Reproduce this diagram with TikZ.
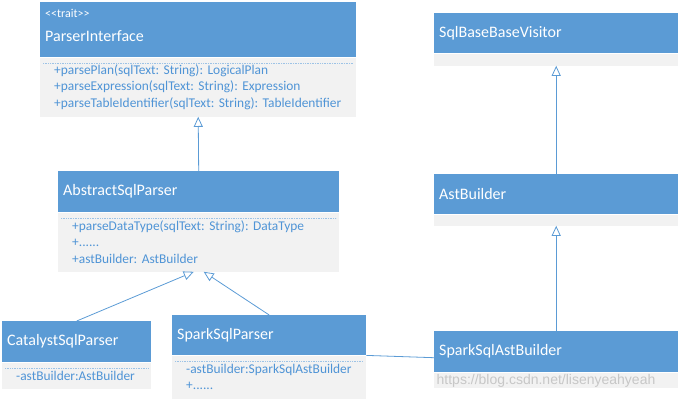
\documentclass[tikz,border=0pt]{standalone}
\usepackage{fontspec}
\setmainfont{Carlito}
\newfontfamily\wmfont{Liberation Sans}
\frenchspacing
\usetikzlibrary{arrows.meta}
\definecolor{headblue}{HTML}{5B9BD5}
\definecolor{bodygray}{HTML}{F2F2F2}
\definecolor{textblue}{HTML}{4F94D6}
\definecolor{dotblue}{HTML}{9DC3E6}
\tikzstyle{classhead}=[fill=headblue, text=white, anchor=north west, align=left,
  inner xsep=5pt, inner ysep=0pt, font=\fontsize{16}{18}\selectfont]
\tikzstyle{classbody}=[fill=bodygray, text=textblue, anchor=north west, align=left,
  inner xsep=14pt, inner ysep=0pt, font=\fontsize{13.4}{16.5}\selectfont]
\tikzstyle{sepline}=[draw=dotblue, densely dotted, line width=0.7pt]
\tikzstyle{line}=[draw, color=headblue, line width=0.8pt,
  -{Triangle[open, fill=white, length=10pt, width=9pt]}]
\tikzstyle{assoc}=[draw, color=headblue, line width=0.8pt]
\newcommand{\classhead}[4]{node (#1) [classhead, text width=#2,
  minimum height=#3] {#4}}
\newcommand{\classbody}[4]{node (#1) [classbody, text width=#2,
  minimum height=#3] {#4}}
\newcommand{\sepbody}[1]{%
  \path [sepline] ([xshift=3pt,yshift=-6pt]#1.north west) --
    ([xshift=-3pt,yshift=-6pt]#1.north east);}

\begin{document}
\begin{tikzpicture}[x=1pt,y=1pt]
  \useasboundingbox (0,0) rectangle (680,400);

  % parser classes
  \path (40,398) \classhead{PI}{306pt}{55pt}{{\fontsize{12}{13}\selectfont <{}<trait>{}>}\\[6pt]ParserInterface\vspace{8pt}};
  \path (PI.south west) \classbody{PIb}{288pt}{59pt}{+parsePlan(sqlText: String): LogicalPlan\\
    +parseExpression(sqlText: String): Expression\\
    +parseTableIdentifier(sqlText: String): TableIdentifier};

  \path (58,229) \classhead{ASP}{271pt}{41pt}{AbstractSqlParser};
  \path (ASP.south west) \classbody{ASPb}{253pt}{59pt}{+parseDataType(sqlText: String): DataType\\
    +......\\
    +astBuilder: AstBuilder};

  \path (2,79) \classhead{CSP}{139pt}{41pt}{CatalystSqlParser};
  \path (CSP.south west) \classbody{CSPb}{121pt}{26pt}{-astBuilder:AstBuilder};

  \path (172,85) \classhead{SSP}{184pt}{40pt}{SparkSqlParser};
  \path (SSP.south west) \classbody{SSPb}{166pt}{43pt}{-astBuilder:SparkSqlAstBuilder\\
    +......};

  % builder classes
  \path (434,387) \classhead{SBBV}{234pt}{40pt}{SqlBaseBaseVisitor};
  \path (SBBV.south west) \classbody{SBBVb}{216pt}{12pt}{};

  \path (434,226) \classhead{AB}{234pt}{40pt}{AstBuilder};
  \path (AB.south west) \classbody{ABb}{216pt}{11pt}{};

  \path (434,69) \classhead{SSAB}{234pt}{41pt}{SparkSqlAstBuilder};
  \path (SSAB.south west) \classbody{SSABb}{216pt}{15pt}{};

  % separators
  \sepbody{PIb}
  \sepbody{ASPb}
  \sepbody{CSPb}
  \sepbody{SSPb}

  % inheritance arrows
  \path [line] (ASP.north) -- (PIb.south);
  \path [line] (CSP.north) -- ([xshift=-5pt]ASPb.south);
  \path [line] (SSP.north) -- ([xshift=5pt]ASPb.south);
  \path [line] (AB.north) -- (SBBVb.south);
  \path [line] (SSAB.north) -- (ABb.south);

  % association
  \path [assoc] (SSP.south east) -- ([yshift=-6pt]SSAB.west);

  % watermark
  \node (wm) at (546,19) [text=black!22, font=\wmfont\fontsize{14}{16}\selectfont]
    {https://blog.csdn.net/lisenyeahyeah};

\end{tikzpicture}
\end{document}
